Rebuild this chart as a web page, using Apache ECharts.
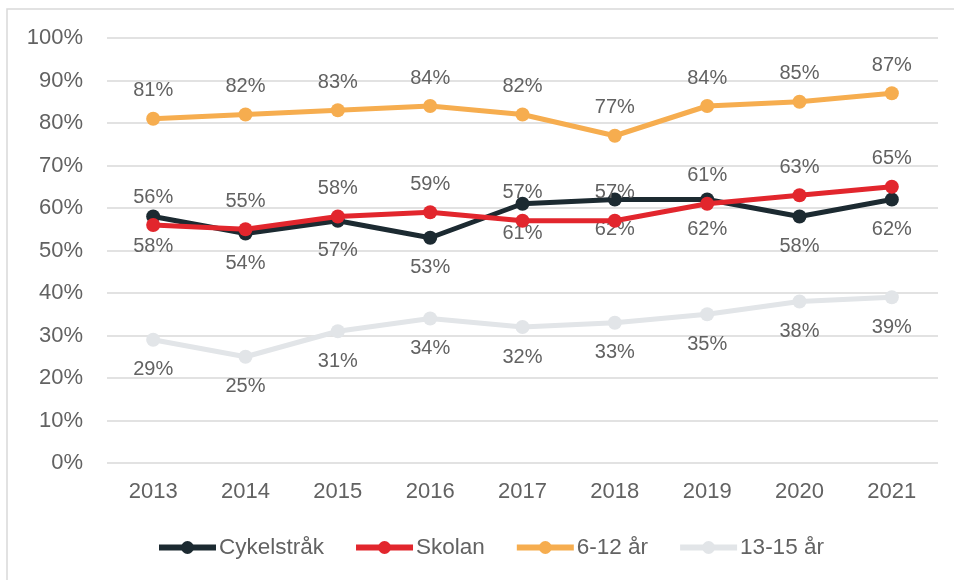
<!DOCTYPE html>
<html><head><meta charset="utf-8">
<script src="https://cdn.jsdelivr.net/npm/echarts@6/dist/echarts.min.js"></script>
<style>html,body{margin:0;padding:0;background:#fff}#c{width:954px;height:580px}</style>
</head><body><div id="c"></div>
<script>
const categories = ['2013','2014','2015','2016','2017','2018','2019','2020','2021'];
const cykelstrak = [58,54,57,53,61,62,62,58,62];
const skolan = [56,55,58,59,57,57,61,63,65];
const ar6_12 = [81,82,83,84,82,77,84,85,87];
const ar13_15 = [29,25,31,34,32,33,35,38,39];
const seriesNames = ['Cykelstråk','Skolan','6-12 år','13-15 år'];

const font = 'Liberation Sans, Arial, sans-serif';
const txt = '#626262';
function mk(name, data, color, pos, z) {
  return {
    name, type: 'line', data, z,
    lineStyle: { width: 5, color },
    itemStyle: { color },
    symbol: 'circle', symbolSize: 14,
    label: { show: true, position: pos, distance: pos === 'top' ? 11 : 13, formatter: p => p.value + '%',
      color: txt, fontSize: 20, fontFamily: font }
  };
}
const chart = echarts.init(document.getElementById('c'));
chart.setOption({
  animation: false,
  graphic: [{ type: 'rect', shape: { x: 7, y: 9, width: 1000, height: 1000 },
    style: { fill: 'none', stroke: '#d9d9d9', lineWidth: 1.5 }, silent: true }],
  grid: { left: 107, right: 16, top: 38, bottom: 117 },
  legend: {
    bottom: 16, left: 151, itemWidth: 57, itemHeight: 16, itemGap: 29,
    lineStyle: { width: 6 },
    textStyle: { color: txt, fontSize: 22.5, fontFamily: font, padding: [0,0,0,-2] },
    data: seriesNames
  },
  xAxis: {
    type: 'category', data: categories, boundaryGap: true,
    axisLine: { show: false }, axisTick: { show: false },
    axisLabel: { color: txt, fontSize: 22, fontFamily: font, margin: 18 }
  },
  yAxis: {
    type: 'value', min: 0, max: 100, interval: 10,
    axisLabel: { formatter: '{value}%', color: txt, fontSize: 22, fontFamily: font, margin: 24 },
    splitLine: { lineStyle: { color: '#d9d9d9', width: 1.5 } },
    axisLine: { show: false }, axisTick: { show: false }
  },
  series: [
    mk('Cykelstråk', cykelstrak, '#1c2a31', 'bottom', 3),
    mk('Skolan', skolan, '#e2262d', 'top', 4),
    mk('6-12 år', ar6_12, '#f6ad4f', 'top', 2),
    mk('13-15 år', ar13_15, '#e2e5e8', 'bottom', 1)
  ]
});
</script></body></html>
